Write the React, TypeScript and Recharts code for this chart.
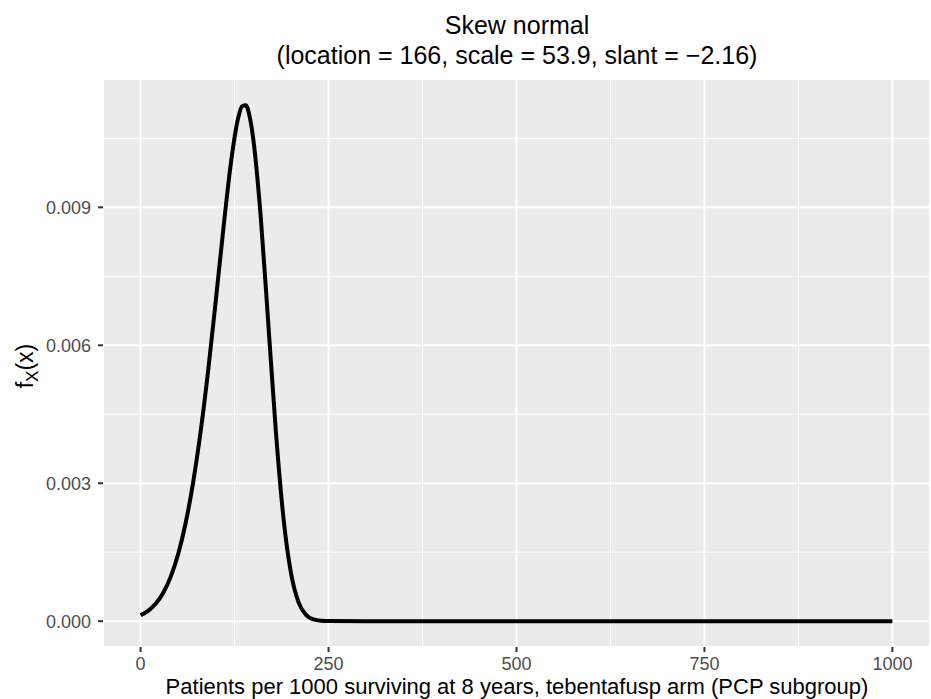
import React from 'react';
import { LineChart, Line, XAxis, YAxis, CartesianGrid } from 'recharts';

// Patients per 1000 (x) and density
const patients = [
  0, 10, 20, 30, 40, 50, 60, 70, 80, 90, 100, 110, 120, 130, 135, 140, 145, 150,
  160, 170, 180, 190, 200, 210, 220, 230, 240, 250, 300, 400, 500, 600, 700, 800, 900, 1000,
];
const density = [
  0.000129, 0.000225, 0.000378, 0.000613, 0.000963, 0.00146, 0.00214, 0.00303, 0.00414,
  0.00547, 0.00697, 0.00852, 0.00995, 0.01096, 0.0112, 0.01122, 0.01098, 0.01047,
  0.00875, 0.00644, 0.00411, 0.00225, 0.00105, 0.000413, 0.000137, 0.000038, 0.000009,
  0.000002, 0, 0, 0, 0, 0, 0, 0, 0,
];

const xTicks = [0, 250, 500, 750, 1000];
const xMinorTicks = [125, 375, 625, 875];
const yTicks = [0, 0.003, 0.006, 0.009];
const yMinorTicks = [0.0015, 0.0045, 0.0075, 0.0105];

const xDomain: [number, number] = [-50, 1050];
const yDomain: [number, number] = [-0.000562, 0.011792];

const chartData = patients.map((x, i) => ({ x, y: density[i] }));

const FONT = '"Liberation Sans", Arial, Helvetica, sans-serif';

export default function App() {
  return (
    <div style={{ position: 'absolute', left: 0, top: 0, width: 931, height: 699, background: '#fff', fontFamily: FONT }}>
      <LineChart
        width={931}
        height={699}
        data={chartData}
        margin={{ top: 79, right: 1, bottom: 22, left: 0 }}
        style={{ fontFamily: FONT }}
      >
        {/* panel background + minor grid */}
        <CartesianGrid xAxisId="minor" yAxisId="minor" fill="#EBEBEB" stroke="#ffffff" strokeWidth={1} />
        <CartesianGrid stroke="#ffffff" strokeWidth={2} />
        <XAxis
          xAxisId="minor"
          type="number"
          dataKey="x"
          domain={xDomain}
          ticks={xMinorTicks}
          allowDataOverflow
          hide
        />
        <YAxis
          yAxisId="minor"
          type="number"
          domain={yDomain}
          ticks={yMinorTicks}
          allowDataOverflow
          hide
        />
        <XAxis
          type="number"
          dataKey="x"
          domain={xDomain}
          ticks={xTicks}
          allowDataOverflow
          height={30}
          axisLine={false}
          tickLine={{ stroke: '#333333', strokeWidth: 2 }}
          tickSize={5}
          tickMargin={5}
          tick={{ fill: '#4D4D4D', fontSize: 18 }}
        />
        <YAxis
          type="number"
          domain={yDomain}
          ticks={yTicks}
          allowDataOverflow
          width={103}
          axisLine={false}
          tickLine={{ stroke: '#333333', strokeWidth: 2 }}
          tickSize={5}
          tickMargin={7}
          tick={{ fill: '#4D4D4D', fontSize: 18 }}
          tickFormatter={(v: number) => v.toFixed(3)}
        />
        <Line
          type="monotone"
          dataKey="y"
          stroke="#000000"
          strokeWidth={4}
          dot={false}
          activeDot={false}
          isAnimationActive={false}
        />
      </LineChart>

      {/* titles and axis labels */}
      <svg width={931} height={699} style={{ position: 'absolute', left: 0, top: 0, pointerEvents: 'none' }}>
        <text x={517} y={34} textAnchor="middle" fontSize={25} fill="#000">Skew normal</text>
        <text x={517} y={64} textAnchor="middle" fontSize={25} fill="#000">
          (location = 166, scale = 53.9, slant = −2.16)
        </text>
        <text x={517} y={694} textAnchor="middle" fontSize={22} fill="#000">
          Patients per 1000 surviving at 8 years, tebentafusp arm (PCP subgroup)
        </text>
        <text x={33} y={366} textAnchor="middle" fontSize={23} fill="#000" transform="rotate(-90 33 366)">
          f<tspan fontSize={17} dy={5}>X</tspan><tspan dy={-5}>(x)</tspan>
        </text>
      </svg>
    </div>
  );
}
